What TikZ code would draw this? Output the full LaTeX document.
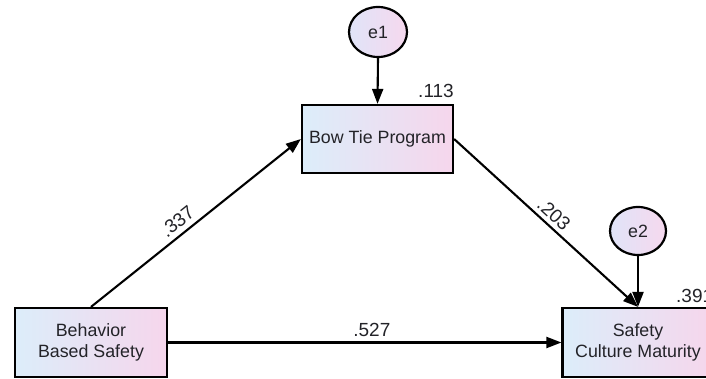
\documentclass[tikz,border=0pt]{standalone}
\usepackage{fontspec}
\setmainfont{Liberation Sans}
\usetikzlibrary{arrows.meta,shapes.geometric}
\definecolor{boxL}{RGB}{220,237,250}
\definecolor{boxM}{RGB}{238,224,242}
\definecolor{boxR}{RGB}{246,214,236}
\definecolor{cirL}{RGB}{224,228,248}
\definecolor{cirR}{RGB}{246,216,238}
\definecolor{txt}{RGB}{35,35,40}
\tikzset{
  varbox/.style={draw=black, line width=2.2pt, left color=boxL, middle color=boxM, right color=boxR,
    minimum width=151pt, minimum height=68pt, inner sep=0pt, align=center,
    font=\fontsize{17.8}{21}\selectfont, text=txt},
  errc/.style={draw=black, line width=2.2pt, ellipse, left color=cirL, right color=cirR,
    inner sep=0pt, font=\fontsize{17.8}{21}\selectfont, text=txt},
  path/.style={line width=2.1pt, -{Triangle[length=15pt,width=11pt]}},
  coef/.style={font=\fontsize{19}{22}\selectfont, text=txt}
}
\begin{document}
\begin{tikzpicture}[x=1pt,y=-1pt]
\useasboundingbox (0,0) rectangle (706,379);
\clip (0,0) rectangle (706,379);
\node[varbox, minimum width=152pt, minimum height=69pt] (bbs) at (91,342.5) {Behavior\\Based Safety};
\node[varbox] (bt) at (377.5,139) {Bow Tie Program};
\node[varbox, minimum height=69pt] (scm) at (638,342.5) {Safety\\Culture Maturity};
\node[errc, minimum width=58pt, minimum height=50pt] (e1) at (378,32) {e1};
\node[errc, minimum width=56pt, minimum height=48pt] (e2) at (638,231) {e2};
\draw[path] (e1.south) -- (bt.north);
\draw[path] (e2.south) -- (scm.north);
\draw[path] (bbs.north) -- node[coef, pos=0.45, sloped, above, inner sep=5pt] (l1) {.337} (bt.west);
\draw[path] (bt.east) -- node[coef, pos=0.5, sloped, above, inner sep=4pt] (l2) {.203} (scm.north);
\draw[path] (bbs.east) -- node[coef, pos=0.518, above, inner sep=5pt] (l3) {.527} (scm.west);
\node[coef, anchor=base east, inner sep=0pt] (r1) at (454,98) {.113};
\node[coef, anchor=base west, inner sep=0pt] (r2) at (676,302) {.391};
\end{tikzpicture}
\end{document}
